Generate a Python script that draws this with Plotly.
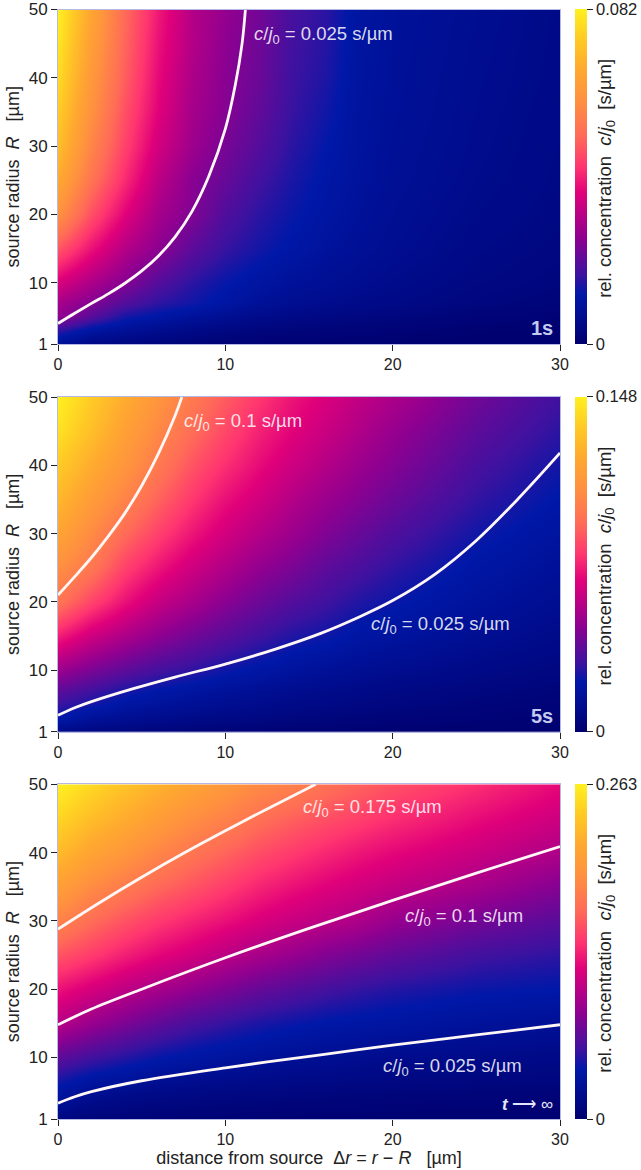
import plotly.graph_objects as go

W, H = 641, 1170

X_UM = [0, 2, 4, 6, 8, 10, 12, 14, 16, 18, 20, 25, 30]
R_UM = [1, 3, 5, 7, 10, 15, 20, 25, 30, 35, 40, 45, 50]

Z_1S = [
    [.008, .0040, .0030, .0022, .0016, .0012, .0010, .0008, .0007, .0006, .0005, .0003, .0002],
    [.016, .0105, .0080, .0062, .0048, .0036, .0028, .0024, .0020, .0017, .0015, .0008, .0006],
    [.0265, .020, .0138, .0115, .0090, .0072, .0056, .0046, .0040, .0034, .0030, .0018, .0013],
    [.029, .0245, .019, .0155, .0135, .0110, .0085, .0070, .0060, .0052, .0046, .0030, .0022],
    [.036, .030, .025, .0195, .0155, .0128, .0105, .0088, .0076, .0066, .0056, .0038, .0028],
    [.048, .039, .031, .026, .0205, .0165, .0138, .0115, .0095, .0080, .0068, .0046, .0034],
    [.060, .047, .037, .029, .0245, .0190, .0155, .0130, .0108, .0088, .0073, .0052, .0039],
    [.067, .053, .042, .032, .0255, .0215, .0175, .0142, .0116, .0094, .0078, .0057, .0042],
    [.072, .057, .045, .035, .028, .0235, .0195, .0155, .0124, .0097, .0081, .0060, .0044],
    [.075, .060, .047, .037, .029, .025, .021, .0165, .0135, .0099, .0084, .0062, .0046],
    [.078, .062, .049, .038, .030, .0255, .022, .017, .0145, .0101, .0086, .0064, .0048],
    [.080, .064, .050, .039, .031, .026, .0225, .0175, .0150, .0103, .0088, .0066, .0049],
    [.082, .066, .051, .040, .031, .027, .023, .018, .0155, .0105, .0090, .0068, .0050],
]

Z_5S = [
    [.0085, .0060, .0048, .0040, .0033, .0028, .0024, .0020, .0017, .0014, .0012, .0008, .0006],
    [.0225, .0160, .0130, .0110, .0092, .0078, .0066, .0056, .0048, .0040, .0035, .0025, .0018],
    [.030, .0250, .0200, .0170, .0145, .0125, .0105, .0090, .0078, .0066, .0058, .0042, .0030],
    [.037, .031, .0255, .0215, .0185, .0160, .0135, .0115, .0100, .0085, .0075, .0055, .0040],
    [.050, .043, .037, .032, .0285, .0240, .0205, .0175, .0150, .0130, .0115, .0085, .0060],
    [.073, .062, .054, .047, .041, .036, .031, .0265, .0240, .020, .018, .013, .0095],
    [.096, .082, .070, .060, .053, .046, .040, .035, .031, .0265, .0235, .017, .0125],
    [.107, .097, .081, .071, .062, .055, .048, .043, .037, .033, .0285, .0205, .015],
    [.118, .105, .092, .081, .071, .063, .056, .050, .044, .039, .034, .0245, .018],
    [.127, .114, .102, .090, .079, .070, .063, .056, .050, .045, .040, .029, .0215],
    [.135, .122, .110, .098, .086, .077, .069, .062, .056, .050, .045, .033, .0245],
    [.143, .130, .116, .104, .093, .083, .074, .067, .061, .055, .049, .037, .028],
    [.148, .135, .122, .110, .098, .088, .079, .071, .065, .059, .054, .041, .031],
]

Z_INF = [
    [.012, .007, .006, .005, .0045, .004, .0035, .003, .0028, .0026, .0024, .002, .0018],
    [.023, .015, .012, .010, .009, .008, .007, .0065, .006, .0055, .005, .0045, .004],
    [.035, .025, .020, .017, .015, .013, .012, .011, .010, .009, .0085, .0075, .0065],
    [.047, .036, .031, .025, .022, .020, .018, .016, .015, .014, .013, .011, .010],
    [.066, .056, .048, .041, .036, .032, .028, .025, .023, .021, .019, .017, .015],
    [.101, .088, .077, .067, .058, .052, .046, .042, .038, .036, .034, .029, .0255],
    [.125, .114, .103, .094, .085, .077, .069, .063, .057, .052, .048, .042, .039],
    [.153, .142, .130, .120, .112, .102, .094, .087, .079, .073, .067, .056, .050],
    [.181, .165, .152, .141, .132, .124, .115, .108, .102, .096, .087, .074, .064],
    [.206, .188, .175, .163, .153, .143, .133, .125, .118, .112, .106, .094, .080],
    [.228, .210, .197, .183, .171, .161, .150, .142, .134, .127, .121, .109, .097],
    [.247, .230, .217, .203, .190, .180, .168, .159, .151, .144, .137, .123, .110],
    [.263, .248, .234, .222, .210, .198, .186, .180, .168, .160, .152, .137, .122],
]

MAX_1S, MAX_5S, MAX_INF = 0.082, 0.148, 0.263

C1_025_X = [0, 1, 2, 3, 4, 5, 6, 7, 8, 9, 10, 10.6, 11, 11.2]
C1_025_R = [4, 5.5, 6.95, 8.35, 9.9, 11.7, 13.9, 16.7, 20.4, 25.5, 32.5, 39, 45, 50]

C5_1_X = [0, 1, 2, 3, 4, 5, 6, 7, 7.4]
C5_1_R = [21, 23.7, 26.5, 29.6, 33, 37, 41.7, 47.3, 50]
C5_025_X = [0, 1, 2, 4.5, 7, 10, 13, 15.7, 18, 20, 22.5, 25, 27.5, 30]
C5_025_R = [3.4, 4.5, 5.4, 7.3, 9, 10.9, 13.1, 15.4, 17.8, 20.2, 24, 29, 35.1, 41.8]

CI_175_X = [0, 2.5, 5, 7.5, 10, 12.5, 15.4]
CI_175_R = [28.8, 32.7, 36.4, 39.9, 43.2, 46.4, 50]
CI_1_X = [0, 2, 5, 10, 15, 20, 25, 30]
CI_1_R = [14.8, 17.1, 20, 24.6, 28.9, 33, 37, 40.9]
CI_025_X = [0, 1, 2, 5, 10, 15.7, 20, 25, 30]
CI_025_R = [3.3, 4.25, 5, 6.6, 8.5, 10.4, 11.8, 13.3, 14.8]

SCALE = [
    [0, "#00006e"], [0.06, "#000a88"], [0.15, "#0018a8"], [0.205, "#3c12a0"],
    [0.32, "#900090"], [0.45, "#e0007a"], [0.53, "#ff3570"], [0.62, "#ff6a58"],
    [0.725, "#ff9040"], [0.815, "#ffa830"], [0.905, "#ffc825"], [1, "#fff020"],
]

FONT = "Liberation Sans"
TXT = "#222222"
EDGE = "#b4b8e4"
PANELS = [
    dict(top=9.5, bot=344, z=Z_1S, zmax=MAX_1S, tick="0.082",
         lines=[(C1_025_X, C1_025_R)],
         labels=[(11.6, 46.3, "0.025")], corner="1s"),
    dict(top=397, bot=731.7, z=Z_5S, zmax=MAX_5S, tick="0.148",
         lines=[(C5_1_X, C5_1_R), (C5_025_X, C5_025_R)],
         labels=[(7.4, 46.4, "0.1"), (18.6, 16.6, "0.025")], corner="5s"),
    dict(top=784.3, bot=1119, z=Z_INF, zmax=MAX_INF, tick="0.263",
         lines=[(CI_175_X, CI_175_R), (CI_1_X, CI_1_R), (CI_025_X, CI_025_R)],
         labels=[(14.5, 46.6, "0.175"), (20.6, 30.6, "0.1"), (19.3, 8.6, "0.025")],
         corner="<b><i>t</i></b> ⟶ ∞"),
]

fig = go.Figure()
layout = dict(
    width=W, height=H,
    margin=dict(l=0, r=0, t=0, b=0, pad=0, autoexpand=False),
    paper_bgcolor="white", plot_bgcolor="white", showlegend=False,
    font=dict(family=FONT, size=16, color=TXT),
)
annotations = []
PX_L, PX_R = 58, 560
NB = "\u00a0"

for i, p in enumerate(PANELS):
    n = "" if i == 0 else str(i + 1)
    xa, ya = "x" + n, "y" + n
    y0, y1 = 1 - p["bot"] / H, 1 - p["top"] / H
    # the topmost colour-bar label would be dropped by the library, so it is an annotation
    top_label_fits = i > 0
    fig.add_trace(go.Heatmap(
        x=X_UM, y=R_UM, z=p["z"], zmin=0, zmax=p["zmax"], zsmooth="best",
        colorscale=SCALE, xaxis=xa, yaxis=ya, hoverinfo="skip",
        colorbar=dict(
            x=575 / W, xanchor="left", xpad=0, ypad=0,
            y=y0, yanchor="bottom", len=y1 - y0, lenmode="fraction",
            thickness=12, thicknessmode="pixels", outlinewidth=0,
            tickmode="array", tickvals=[0, p["zmax"]],
            ticktext=["0", p["tick"] if top_label_fits else " "],
            ticks="outside", ticklen=6, tickwidth=1, tickcolor=TXT,
            tickfont=dict(family=FONT, size=16.5, color=TXT),
        ),
    ))
    if not top_label_fits:
        annotations.append(dict(
            x=595.5 / W, y=y1, xref="paper", yref="paper", xanchor="left",
            yanchor="middle", showarrow=False, text=p["tick"], xshift=-2,
            font=dict(family=FONT, size=16.5, color=TXT),
        ))
    for lx, lr in p["lines"]:
        fig.add_trace(go.Scatter(
            x=lx, y=lr, mode="lines", xaxis=xa, yaxis=ya, hoverinfo="skip",
            line=dict(color="#fff6f6", width=2.8, shape="spline", smoothing=1.0),
        ))
    layout["xaxis" + n] = dict(
        domain=[PX_L / W, PX_R / W], range=[0, 30], anchor=ya,
        tickmode="array", tickvals=[0, 10, 20, 30],
        ticks="outside", ticklen=6, tickwidth=1, tickcolor=TXT,
        showgrid=False, zeroline=False, showline=True, linecolor=EDGE, linewidth=1, mirror=True,
        tickfont=dict(family=FONT, size=16, color=TXT),
    )
    layout["yaxis" + n] = dict(
        domain=[y0, y1], range=[1, 50], anchor=xa,
        tickmode="array", tickvals=[1, 10, 20, 30, 40, 50],
        ticks="outside", ticklen=6, tickwidth=1, tickcolor=TXT,
        showgrid=False, zeroline=False, showline=True, linecolor=EDGE, linewidth=1, mirror=True,
        tickfont=dict(family=FONT, size=17, color=TXT),
        title=dict(text=f"source radius{NB}{NB}<i>R</i>{NB}{NB}{NB}[µm]", standoff=4,
                   font=dict(family=FONT, size=18, color=TXT)),
    )
    for lx, lr, val in p["labels"]:
        annotations.append(dict(
            x=lx, y=lr, xref=xa, yref=ya, xanchor="left", yanchor="middle",
            showarrow=False,
            text=f"<i>c</i>/<i>j</i><sub>0</sub> = {val} s/µm",
            font=dict(family=FONT, size=18.5, color="rgba(255,255,255,0.85)"),
        ))
    annotations.append(dict(
        x=29.7, y=1.4, xref=xa, yref=ya, xanchor="right", yanchor="bottom",
        showarrow=False, text=f"<b>{p['corner']}</b>" if i < 2 else p["corner"],
        font=dict(family=FONT, size=20 if i < 2 else 17,
                  color="#c4caf0" if i < 2 else "#e4e6fa"),
    ))
    annotations.append(dict(
        x=606 / W, y=(y0 + y1) / 2 - 0.0018, xref="paper", yref="paper",
        xanchor="center", yanchor="middle", showarrow=False, textangle=-90,
        text=f"rel. concentration{NB}{NB}<i>c</i>/<i>j</i><sub>0</sub>{NB}{NB}[s/µm]",
        font=dict(family=FONT, size=18.5, color=TXT),
    ))

layout["xaxis3"]["title"] = dict(
    text=f"{NB}{NB}distance from source{NB}{NB}Δ<i>r</i> = <i>r</i> − <i>R</i>{NB}{NB}{NB}[µm]", standoff=2,
    font=dict(family=FONT, size=18, color=TXT),
)
layout["annotations"] = annotations
fig.update_layout(**layout)
fig.write_html("out.html", config={"displayModeBar": False},
               post_script="document.body.style.margin='0';")
